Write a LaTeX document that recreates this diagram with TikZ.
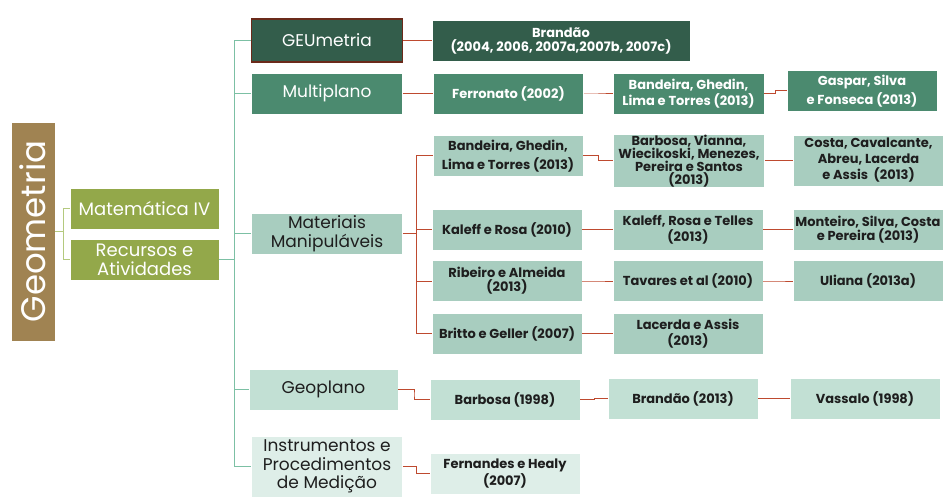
\documentclass[tikz,border=0pt]{standalone}
\usepackage{fontspec}
\setmainfont{Poppins}
\usepackage{tikz}
\usetikzlibrary{calc}

\definecolor{geobrown}{HTML}{A08352}
\definecolor{olive}{HTML}{93A84A}
\definecolor{oliveline}{HTML}{B4C97E}
\definecolor{tealline}{HTML}{7CC0A4}
\definecolor{redline}{HTML}{BE4A2F}
\definecolor{dkgreen}{HTML}{335D4B}
\definecolor{mdgreen}{HTML}{4B8A6F}
\definecolor{ltgreen}{HTML}{A8CDBF}
\definecolor{pale}{HTML}{C2E0D4}
\definecolor{paler}{HTML}{DEEEE8}
\definecolor{geuborder}{HTML}{6B2A1A}
\definecolor{ink}{HTML}{1E1E1E}

\tikzset{
  box/.style={rectangle, draw=white, line width=0.8pt, align=center, inner sep=0pt},
  lvlone/.style={box, fill=olive, text=white, minimum width=149, minimum height=41, font=\fontsize{18}{19}\selectfont},
  lvltwo/.style={box, text=ink, minimum width=151, minimum height=41, font=\fontsize{17}{18.5}\selectfont},
  refbox/.style={box, text=ink, minimum width=150, minimum height=41, font=\bfseries\fontsize{13}{16}\selectfont},
  oneline/.style={draw=oliveline, line width=1pt},
  twoline/.style={draw=tealline, line width=1.2pt},
  redl/.style={draw=redline, line width=1pt},
  elbow/.style={to path={-| ($(\tikztostart)!.5!(\tikztotarget)$) |- (\tikztotarget)}}
}

\begin{document}
\begin{tikzpicture}[x=1pt,y=-1pt]
\useasboundingbox (0,0) rectangle (945,500);
% root and first level
\node[box, fill=geobrown, text=white, minimum width=44, minimum height=219] (geo) at (33,231.5) {};
\node[rotate=90, text=white, font=\fontsize{34}{36}\selectfont] (geotxt) at (geo.center) {Geometria};
\node[lvlone] (mat) at (144.5,208.5) {Matemática IV};
\node[lvlone] (rec) at (144.5,259.5) {Recursos e\\Atividades};
% second level
\node[lvltwo, fill=dkgreen, text=white, draw=geuborder, line width=1.2pt, minimum height=43] (geu) at (327,40.5) {GEUmetria};
\node[lvltwo, fill=mdgreen, text=white] (mult) at (327,93.5) {Multiplano};
\node[lvltwo, fill=ltgreen] (manip) at (327,233.5) {Materiais\\Manipuláveis};
\node[lvltwo, fill=pale, minimum width=149] (geopl) at (323.5,389.5) {Geoplano};
\node[lvltwo, fill=paler, minimum height=61] (instr) at (327,466.5) {Instrumentos e\\Procedimentos\\de Medição};
% references
\node[refbox, fill=dkgreen, text=white, minimum width=258, font=\bfseries\fontsize{13}{14}\selectfont] (bra) at (561,40.5) {Brandão\\(2004, 2006, 2007a,2007b, 2007c)};
\node[refbox, fill=mdgreen, text=white] (fer) at (508.5,94) {Ferronato (2002)};
\node[refbox, fill=mdgreen, text=white, minimum width=151] (band) at (688.5,94) {Bandeira, Ghedin,\\Lima e Torres (2013)};
\node[refbox, fill=mdgreen, text=white, font=\bfseries\fontsize{13}{19}\selectfont] (gasp) at (862,91) {Gaspar, Silva\\e Fonseca (2013)};
\node[refbox, fill=ltgreen, font=\bfseries\fontsize{13}{19}\selectfont] (bandm) at (508,156) {Bandeira, Ghedin,\\Lima e Torres (2013)};
\node[refbox, fill=ltgreen, minimum width=151, minimum height=53, font=\bfseries\fontsize{13}{13}\selectfont] (barb) at (689,161) {Barbosa, Vianna,\\Wiecikoski, Menezes,\\Pereira e Santos\\(2013)};
\node[refbox, fill=ltgreen, minimum height=51, font=\bfseries\fontsize{13}{16}\selectfont] (costa) at (868.5,160.5) {Costa, Cavalcante,\\Abreu, Lacerda\\e Assis~~(2013)};
\node[refbox, fill=ltgreen] (kal) at (507,229.5) {Kaleff e Rosa (2010)};
\node[refbox, fill=ltgreen] (krt) at (688,229.5) {Kaleff, Rosa e Telles\\(2013)};
\node[refbox, fill=ltgreen, font=\bfseries\fontsize{13}{14}\selectfont] (mont) at (868,229.5) {Monteiro, Silva, Costa\\e Pereira (2013)};
\node[refbox, fill=ltgreen, font=\bfseries\fontsize{13}{14}\selectfont] (rib) at (507,281) {Ribeiro e Almeida\\(2013)};
\node[refbox, fill=ltgreen] (tav) at (688,281) {Tavares et al (2010)};
\node[refbox, fill=ltgreen] (uli) at (868,281) {Uliana (2013a)};
\node[refbox, fill=ltgreen] (bri) at (507,333.5) {Britto e Geller (2007)};
\node[refbox, fill=ltgreen] (lac) at (688,333.5) {Lacerda e Assis\\(2013)};
\node[refbox, fill=pale] (barbg) at (505,399.5) {Barbosa (1998)};
\node[refbox, fill=pale] (brag) at (683,398.5) {Brandão (2013)};
\node[refbox, fill=pale] (vas) at (865,398.5) {Vassalo (1998)};
\node[refbox, fill=paler, font=\bfseries\fontsize{13}{14}\selectfont] (fern) at (505,473.5) {Fernandes e Healy\\(2007)};
% connectors
\draw[oneline] (geo.east) -- ++(8,0) coordinate (jone);
\draw[oneline] (mat.west) -| (jone) |- (rec.west);
\draw[twoline] (rec.east) -- ++(15,0) coordinate (jtwo);
\draw[twoline] (geu.west) -| (jtwo) |- (instr.west);
\foreach \n in {mult,manip,geopl}
  \draw[twoline] (\n.west) -- (\n.west -| jtwo);
\draw[redl] (manip.east) -- ++(14,0) coordinate (jman);
\draw[redl] (bandm.west) -| (jman) |- (bri.west);
\foreach \n in {kal,rib}
  \draw[redl] (\n.west) -- (\n.west -| jman);
\foreach \a/\b in {geu/bra,mult/fer,fer/band,band/gasp,bandm/barb,barb/costa,kal/krt,krt/mont,rib/tav,tav/uli,bri/lac,geopl/barbg,barbg/brag,brag/vas,instr/fern}
  \draw[redl] (\a.east) to[elbow] (\b.west);
\end{tikzpicture}
\end{document}
